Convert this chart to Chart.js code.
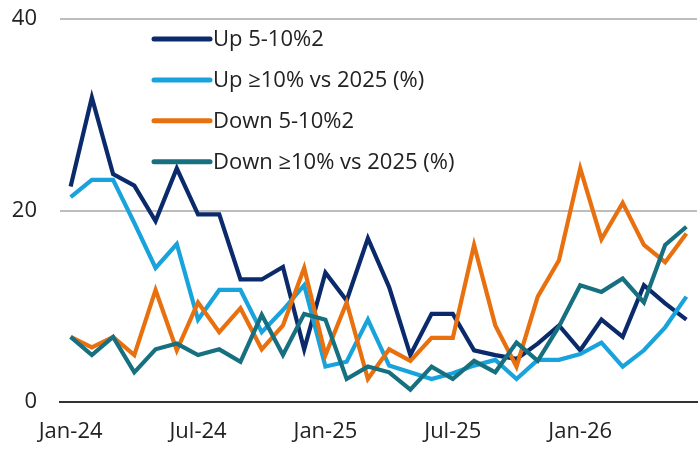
<!DOCTYPE html>
<html>
<head>
<meta charset="utf-8">
<script src="https://cdn.jsdelivr.net/npm/chart.js@4.4.1/dist/chart.umd.min.js"></script>
<style>
    html, body { margin: 0; padding: 0; background: #fff; }
    #wrap { width: 700px; height: 450px; }
</style>
</head>
<body>
<div id="wrap"><canvas id="chart-js"></canvas></div>
<script>
const months = ['Jan-24', 'Feb-24', 'Mar-24', 'Apr-24', 'May-24', 'Jun-24', 'Jul-24', 'Aug-24', 'Sep-24', 'Oct-24', 'Nov-24', 'Dec-24',
    'Jan-25', 'Feb-25', 'Mar-25', 'Apr-25', 'May-25', 'Jun-25', 'Jul-25', 'Aug-25', 'Sep-25', 'Oct-25', 'Nov-25', 'Dec-25',
    'Jan-26', 'Feb-26', 'Mar-26', 'Apr-26', 'May-26', 'Jun-26'];
const tickMonths = ['Jan-24', 'Jul-24', 'Jan-25', 'Jul-25', 'Jan-26'];
const yTicks = [0, 20, 40];

const seriesNames = ['Up 5-10%2', 'Up \u226510% vs 2025 (%)', 'Down 5-10%2', 'Down \u226510% vs 2025 (%)'];
const seriesColors = ['#0b2a6b', '#18a3dc', '#e8700e', '#16707f'];

const up5to10 = [22.5, 31.8, 23.8, 22.6, 18.9, 24.4, 19.6, 19.6, 12.8, 12.8, 14.1, 5.5, 13.5, 10.6, 17.1,
    12.0, 4.9, 9.2, 9.2, 5.4, 4.9, 4.5, 6.1, 8.0, 5.4, 8.6, 6.8, 12.2, 10.3, 8.6];
const up10 = [21.4, 23.2, 23.2, 18.7, 14.0, 16.5, 8.6, 11.7, 11.7, 7.3, 9.6, 12.2, 3.7, 4.2, 8.6,
    3.8, 3.1, 2.4, 3.0, 3.8, 4.4, 2.4, 4.4, 4.4, 5.0, 6.2, 3.7, 5.4, 7.8, 11.0];
const down5to10 = [6.8, 5.7, 6.8, 4.9, 11.7, 5.4, 10.4, 7.3, 9.8, 5.5, 8.0, 14.0, 4.9, 10.4, 2.4,
    5.5, 4.3, 6.7, 6.7, 16.4, 8.0, 3.7, 11.0, 14.8, 24.4, 17.0, 20.8, 16.4, 14.6, 17.6];
const down10 = [6.8, 4.9, 6.8, 3.1, 5.5, 6.1, 4.9, 5.5, 4.2, 9.1, 4.9, 9.2, 8.6, 2.4, 3.7,
    3.1, 1.3, 3.7, 2.4, 4.3, 3.1, 6.2, 4.3, 7.9, 12.2, 11.5, 12.9, 10.4, 16.4, 18.3];

const seriesValues = [up5to10, up10, down5to10, down10];
const FONT = "'Open Sans', sans-serif";
const FONT_SIZE = 22;

// legend drawn inside the plot, stacked at top-left
const insideLegend = {
    id: 'insideLegend',
    afterDraw(chart) {
        const { ctx, chartArea } = chart;
        const x0 = chartArea.left + 94;
        const x1 = chartArea.left + 150;
        ctx.save();
        ctx.font = FONT_SIZE + 'px ' + FONT;
        ctx.textBaseline = 'middle';
        seriesNames.forEach((name, i) => {
            const y = chartArea.top + 20 + i * 40.9;
            ctx.beginPath();
            ctx.lineCap = 'round';
            ctx.lineWidth = 5;
            ctx.strokeStyle = seriesColors[i];
            ctx.moveTo(x0, y);
            ctx.lineTo(x1, y);
            ctx.stroke();
            ctx.fillStyle = '#222';
            ctx.fillText(name, x1 + 3, y + 1);
        });
        ctx.restore();
    }
};

const data = {
    labels: months,
    datasets: seriesValues.map((values, i) => ({
        label: seriesNames[i],
        data: values,
        borderColor: seriesColors[i],
        backgroundColor: seriesColors[i],
        borderWidth: 4.2,
        pointRadius: 0,
        tension: 0,
        fill: false,
        order: 4 - i
    }))
};

const config = {
    type: 'line',
    data: data,
    options: {
        responsive: true,
        maintainAspectRatio: false,
        animation: false,
        layout: { padding: { left: 12, right: 3, top: 19, bottom: 4 } },
        plugins: {
            legend: { display: false },
            tooltip: { enabled: false }
        },
        scales: {
            x: {
                offset: true,
                grid: { display: false, drawTicks: false },
                border: { display: true, color: '#333', width: 2 },
                afterFit: (axis) => {
                    axis.height = 44;
                    axis.paddingLeft = 0;
                    axis.paddingRight = 0;
                },
                ticks: {
                    autoSkip: false,
                    maxRotation: 0,
                    padding: 17,
                    color: '#222',
                    font: { family: FONT, size: FONT_SIZE },
                    callback: function (value) {
                        const label = this.getLabelForValue(value);
                        return tickMonths.includes(label) ? label : '';
                    }
                }
            },
            y: {
                min: 0,
                max: 40,
                afterBuildTicks: (axis) => { axis.ticks = yTicks.map(v => ({ value: v })); },
                afterFit: (axis) => {
                    axis.width = 48;
                    axis.paddingTop = 0;
                    axis.paddingBottom = 0;
                },
                grid: { color: '#bdbdbd', lineWidth: 2, drawTicks: false },
                border: { display: false },
                ticks: {
                    padding: 23,
                    color: '#222',
                    font: { family: FONT, size: FONT_SIZE }
                }
            }
        }
    },
    plugins: [insideLegend]
};

const ctx = document.getElementById('chart-js');
if (ctx) new Chart(ctx, config);
</script>
</body>
</html>
